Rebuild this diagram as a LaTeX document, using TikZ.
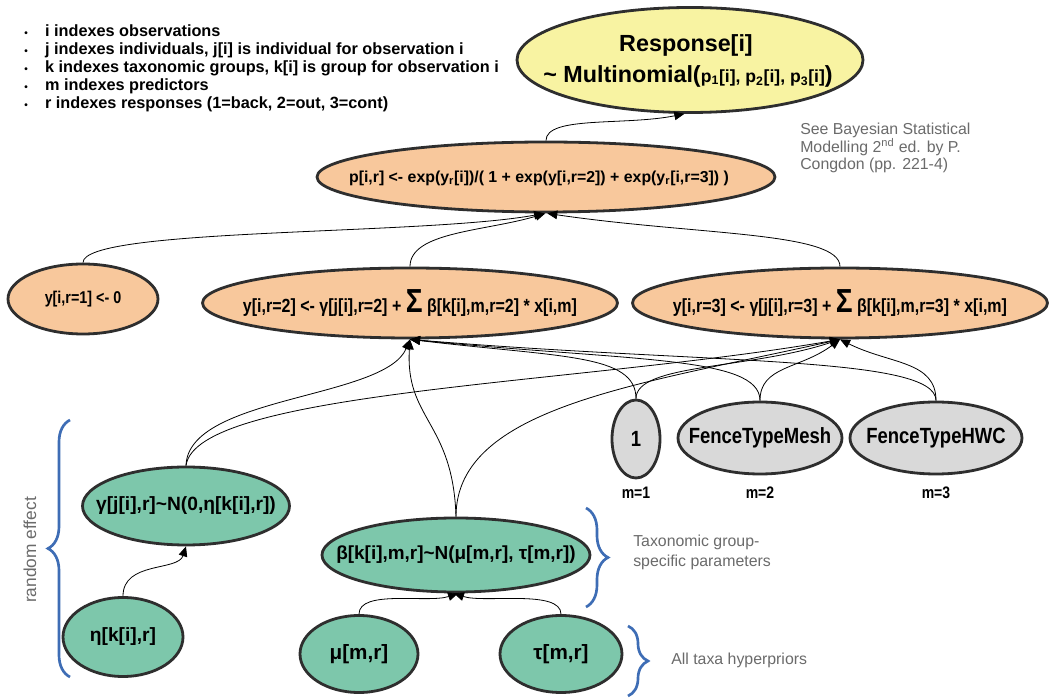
\documentclass[tikz,border=0pt]{standalone}
\usepackage{fontspec}
\setmainfont{Liberation Sans}
\newfontfamily\narrowfont[FakeStretch=0.84]{Liberation Sans}
\usetikzlibrary{shapes.geometric,arrows.meta,decorations.pathreplacing}
\definecolor{yelfill}{HTML}{F8F3A2}
\definecolor{peachfill}{HTML}{F8C89C}
\definecolor{greenfill}{HTML}{7DC7AB}
\definecolor{grayfill}{HTML}{D9D9D9}
\definecolor{outline}{HTML}{2E2E2E}
\definecolor{bracecol}{HTML}{3E6DB5}
\definecolor{notecol}{HTML}{6B6B6B}
\newdimen\px \px=0.75pt
\tikzset{
  ell/.style={ellipse, draw=outline, line width=2.1pt, inner sep=0pt},
  txt/.style={inner sep=0pt, align=center, text=black},
  edge/.style={line width=0.6pt, -{Triangle[length=7.5pt,width=6.5pt]}},
  bracedeco/.style={draw=bracecol, line width=2pt, decorate, decoration={brace, amplitude=#1}},
  note/.style={inner sep=0pt, text=notecol, align=left, anchor=west},
}
\begin{document}
\begin{tikzpicture}[x=0.75pt,y=-0.75pt]
\useasboundingbox (0,0) rectangle (1051,698);
\fill[white] (0,0) rectangle (1051,698);

% bullet list
\node[anchor=north west, inner sep=0pt, font=\fontsize{12.2}{13.5}\selectfont\bfseries] (bullets) at (24,24) {%
\begin{tabular}{@{}l@{\hspace{13pt}}l@{}}
{\fontsize{7.5}{7.5}\selectfont\textbullet} & i indexes observations\\
{\fontsize{7.5}{7.5}\selectfont\textbullet} & j indexes individuals, j[i] is individual for observation i\\
{\fontsize{7.5}{7.5}\selectfont\textbullet} & k indexes taxonomic groups, k[i] is group for observation i\\
{\fontsize{7.5}{7.5}\selectfont\textbullet} & m indexes predictors\\
{\fontsize{7.5}{7.5}\selectfont\textbullet} & r indexes responses (1=back, 2=out, 3=cont)
\end{tabular}};

% Response
\node[ell, fill=yelfill, minimum width=346\px, minimum height=105\px] (resp) at (690,60) {};
\node[txt, font=\fontsize{17.5}{20}\selectfont\bfseries] (resptxt1) at (686,45) {Response[i]};
\node[txt, font=\fontsize{17.5}{20}\selectfont\bfseries] (resptxt2) at (688,76) {\textasciitilde{} Multinomial({\fontsize{13.2}{15}\selectfont p\textsubscript{1}[i], p\textsubscript{2}[i], p\textsubscript{3}[i]})};

% note
\node[note, font=\fontsize{11.9}{13.2}\selectfont] (congdon) at (800,148) {See Bayesian Statistical\\Modelling 2\textsuperscript{nd} ed. by P.\\Congdon (pp. 221-4)};

% p node
\node[ell, fill=peachfill, minimum width=458\px, minimum height=70\px] (p) at (546,177) {};
\node[txt, font=\fontsize{11.9}{13}\selectfont\bfseries] (ptxt) at (539,178) {p[i,r] <- exp(y\textsubscript{r}[i])/( 1 + exp(y[i,r=2]) + exp(y\textsubscript{r}[i,r=3]) )};

% y nodes
\node[ell, fill=peachfill, minimum width=150\px, minimum height=70\px] (y1) at (83,299) {};
\node[txt, font=\fontsize{12.8}{14}\narrowfont\bfseries] (y1txt) at (83,299) {y[i,r=1] <- 0};
\node[ell, fill=peachfill, minimum width=415\px, minimum height=70\px] (y2) at (410,303) {};
\node[txt, font=\fontsize{14.3}{15}\narrowfont\bfseries] (y2txt) at (410,303) {y[i,r=2] <- γ[j[i],r=2] + {\fontsize{25}{25}\selectfont Σ} β[k[i],m,r=2] * x[i,m]};
\node[ell, fill=peachfill, minimum width=415\px, minimum height=70\px] (y3) at (840,303) {};
\node[txt, font=\fontsize{14.3}{15}\narrowfont\bfseries] (y3txt) at (840,303) {y[i,r=3] <- γ[j[i],r=3] + {\fontsize{25}{25}\selectfont Σ} β[k[i],m,r=3] * x[i,m]};

% predictor nodes
\node[ell, fill=grayfill, minimum width=48\px, minimum height=78\px] (one) at (636,439) {};
\node[txt, font=\fontsize{16.5}{18}\narrowfont\bfseries] (onetxt) at (636,439) {1};
\node[ell, fill=grayfill, minimum width=164\px, minimum height=72\px] (ftm) at (760,438) {};
\node[txt, font=\fontsize{16.5}{18}\narrowfont\bfseries] (ftmtxt) at (760,438) {FenceTypeMesh};
\node[ell, fill=grayfill, minimum width=172\px, minimum height=72\px] (fthwc) at (936,438) {};
\node[txt, font=\fontsize{16.5}{18}\narrowfont\bfseries] (fthwctxt) at (936,438) {FenceTypeHWC};
\node[txt, font=\fontsize{12.5}{14}\narrowfont\bfseries] (m1) at (636,493) {m=1};
\node[txt, font=\fontsize{12.5}{14}\narrowfont\bfseries] (m2) at (760,493) {m=2};
\node[txt, font=\fontsize{12.5}{14}\narrowfont\bfseries] (m3) at (936,493) {m=3};

% green nodes
\node[ell, fill=greenfill, minimum width=207\px, minimum height=78\px] (gam) at (186,506) {};
\node[txt, font=\fontsize{14.4}{16}\selectfont\bfseries] (gamtxt) at (186,506) {γ[j[i],r]\textasciitilde N(0,η[k[i],r])};
\node[ell, fill=greenfill, minimum width=120\px, minimum height=79\px] (eta) at (123,637) {};
\node[txt, font=\fontsize{14.4}{16}\selectfont\bfseries] (etatxt) at (123,637) {η[k[i],r]};
\node[ell, fill=greenfill, minimum width=268\px, minimum height=74\px] (beta) at (456,555) {};
\node[txt, font=\fontsize{14.2}{16}\selectfont\bfseries] (betatxt) at (456,555) {β[k[i],m,r]\textasciitilde N(μ[m,r], τ[m,r])};
\node[ell, fill=greenfill, minimum width=118\px, minimum height=77\px] (mu) at (359,654) {};
\node[txt, font=\fontsize{15.5}{17}\selectfont\bfseries] (mutxt) at (359,654) {μ[m,r]};
\node[ell, fill=greenfill, minimum width=122\px, minimum height=77\px] (tau) at (561,654) {};
\node[txt, font=\fontsize{15.5}{17}\selectfont\bfseries] (tautxt) at (561,654) {τ[m,r]};

% braces and notes
\draw[bracedeco=22\px] (70,677) -- (70,420) coordinate (bre);
\node[txt, text=notecol, rotate=90, font=\fontsize{13}{14}\selectfont] (reff) at (30,550) {random effect};
\draw[bracedeco=22\px] (586,508) -- (586,607) coordinate (brt);
\node[note, font=\fontsize{11.9}{15}\selectfont] (taxo) at (633,552) {Taxonomic group-\\specific parameters};
\draw[bracedeco=20\px] (628,626) -- (628,696) coordinate (brh);
\node[note, font=\fontsize{11.9}{14}\selectfont] (hyper) at (671,660) {All taxa hyperpriors};

% edges
\draw[edge] (p.north) .. controls +(0,-25) and +(-60,12) .. (resp.264);
\draw[edge] (y1.north) .. controls +(0,-35) and +(-120,22) .. (p.267);
\draw[edge] (y2.north) .. controls +(0,-35) and +(-60,18) .. (p.269);
\draw[edge] (y3.north) .. controls +(0,-35) and +(150,22) .. (p.272);

\draw[edge] (gam.north) .. controls +(2,-70) and +(-25,60) .. (y2.south);
\draw[edge] (gam.north) .. controls +(10,-75) and +(-260,45) .. (y3.south);
\draw[edge] (beta.north) .. controls +(-3,-95) and +(-5,80) .. (y2.south);
\draw[edge] (beta.north) .. controls +(0,-110) and +(-200,45) .. (y3.south);
\draw[edge] (one.north) .. controls +(0,-45) and +(150,18) .. (y2.south);
\draw[edge] (one.north) .. controls +(0,-35) and +(-90,30) .. (y3.south);
\draw[edge] (ftm.north) .. controls +(0,-45) and +(220,22) .. (y2.south);
\draw[edge] (ftm.north) .. controls +(0,-35) and +(-40,30) .. (y3.south);
\draw[edge] (fthwc.north) .. controls +(0,-45) and +(300,25) .. (y2.south);
\draw[edge] (fthwc.north) .. controls +(0,-40) and +(50,25) .. (y3.south);

\draw[edge] (eta.north) .. controls +(0,-35) and +(-8,25) .. (gam.south);
\draw[edge] (mu.north) .. controls +(0,-25) and +(-30,10) .. (beta.273);
\draw[edge] (tau.north) .. controls +(0,-25) and +(30,10) .. (beta.267);
\end{tikzpicture}
\end{document}
